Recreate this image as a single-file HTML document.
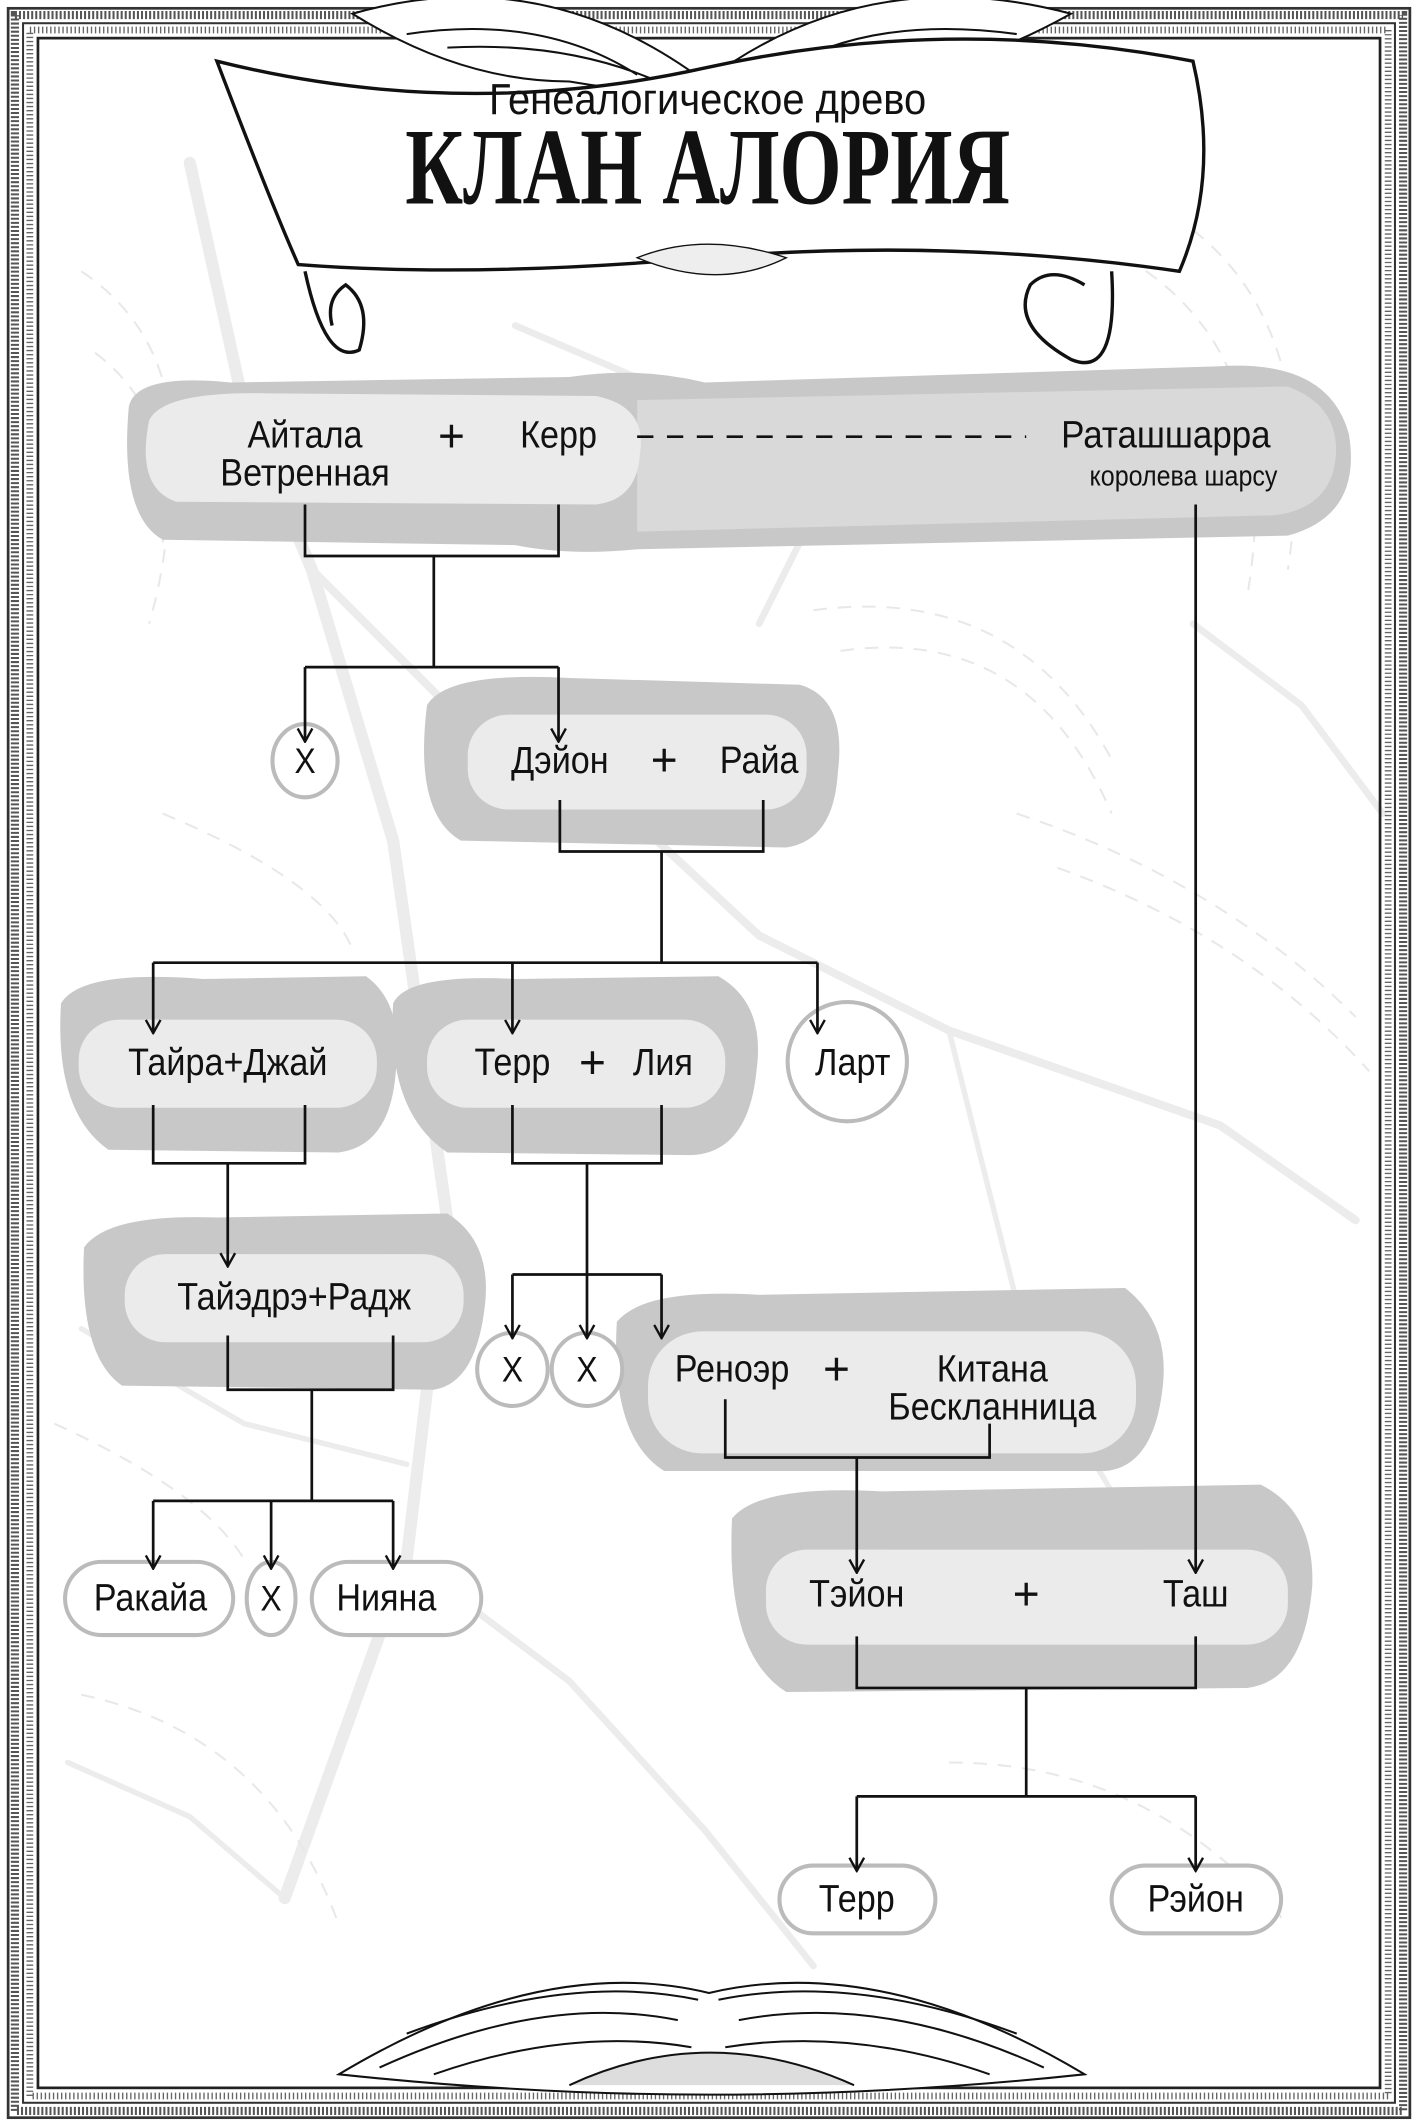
<!DOCTYPE html>
<html><head><meta charset="utf-8"><style>
html,body{margin:0;padding:0;background:#fff}
svg{display:block}
text{font-family:"Liberation Sans","DejaVu Sans",sans-serif;fill:#111;text-anchor:middle}
</style></head><body>
<svg width="1418" height="2126" viewBox="0 0 1046 1568" xmlns="http://www.w3.org/2000/svg">
<defs>
<marker id="a" viewBox="0 0 12 12" refX="11" refY="6" markerWidth="13" markerHeight="13" markerUnits="userSpaceOnUse" orient="auto">
<path d="M2,1 L11,6 L2,11" fill="none" stroke="#111" stroke-width="1.6"/></marker>
</defs>
<rect width="1046" height="1568" fill="#fff"/>
<g stroke="#ececec" fill="none" stroke-linecap="round">
<path d="M140,120 L180,300 L230,420 L290,620 L330,900 L300,1150 L210,1400" stroke-width="9"/>
<path d="M230,420 L330,520 L420,560 L560,690 L700,760 L900,830 L1000,900" stroke-width="6"/>
<path d="M300,1150 L420,1240 L520,1350 L600,1450" stroke-width="5"/>
<path d="M700,760 L760,1000 L820,1100" stroke-width="4"/>
<path d="M60,980 L180,1050 L300,1080" stroke-width="4"/>
<path d="M880,460 L960,520 L1020,600" stroke-width="5"/>
<path d="M380,240 L520,300 L600,380 L560,460" stroke-width="5"/>
<path d="M50,1300 L140,1340 L210,1400" stroke-width="4"/>
</g>
<g stroke="#e8e8e8" fill="none" stroke-width="1.5" stroke-dasharray="10 8">
<path d="M60,200 Q150,260 120,400"/><path d="M70,260 Q150,320 110,460"/>
<path d="M850,150 Q980,220 950,420"/><path d="M830,190 Q950,260 920,440"/>
<path d="M600,450 Q750,430 820,560"/><path d="M620,480 Q760,460 820,600"/>
<path d="M120,600 Q240,650 260,700"/><path d="M40,1050 Q150,1100 180,1150"/>
<path d="M700,1300 Q850,1300 950,1420"/><path d="M60,1250 Q200,1280 250,1420"/>
<path d="M750,600 Q900,650 1000,750"/><path d="M780,640 Q920,690 1010,790"/>
</g>
<rect x="6" y="6" width="1034" height="1556" fill="none" stroke="#333" stroke-width="2"/>
<rect x="11" y="11" width="1024" height="1546" fill="none" stroke="#555" stroke-width="6" stroke-dasharray="1.5 1.5"/>
<rect x="17" y="17" width="1012" height="1534" fill="none" stroke="#333" stroke-width="1.5"/>
<rect x="22" y="22" width="1002" height="1524" fill="none" stroke="#666" stroke-width="5" stroke-dasharray="1 2"/>
<rect x="28" y="28" width="990" height="1512" fill="none" stroke="#222" stroke-width="2"/>
<g fill="#fff" stroke="#111" stroke-width="1.5">
<path d="M260,10 Q400,-30 520,60 Q640,-30 790,10 Q700,60 620,60 Q560,70 520,70 Q480,70 420,60 Q340,60 260,10Z"/>
<path d="M300,25 Q400,10 470,55 M330,35 Q420,30 490,62 M750,25 Q640,10 570,55 M720,35 Q630,30 555,62" fill="none"/>
</g>
<path d="M160,45 Q340,90 520,50 Q700,10 880,45 Q900,130 870,200 Q700,175 520,190 Q350,205 220,195 Q200,150 160,45Z" fill="#fff" stroke="#111" stroke-width="2.5"/>
<path d="M225,200 Q240,270 265,258 Q275,225 255,210 Q240,220 245,240" fill="#fff" stroke="#111" stroke-width="2.5"/>
<path d="M820,200 Q825,280 790,265 Q745,240 760,210 Q775,195 800,210" fill="#fff" stroke="#111" stroke-width="2.5"/>
<path d="M470,190 Q520,170 580,190 Q530,215 470,190Z" fill="#eee" stroke="#111" stroke-width="1"/>
<text transform="translate(522,84) scale(.92,1)" font-size="32">Генеалогическое древо</text>
<text transform="translate(522,150) scale(.95,1.3)" font-size="62" style="font-family:'Liberation Serif',serif" font-weight="bold">КЛАН АЛОРИЯ</text>
<path d="M95,300 Q100,275 170,282 L420,278 Q470,270 520,282 L900,270 Q980,265 995,320 Q1005,380 950,395 L470,405 Q420,410 380,402 L120,398 Q88,380 95,300Z" fill="#c8c8c8"/>
<path d="M470,295 L950,285 Q990,300 985,340 Q980,375 940,380 L470,392Z" fill="#d9d9d9"/>
<path d="M110,310 Q120,288 200,290 L440,292 Q478,300 472,335 Q470,368 440,372 L130,370 Q100,360 110,310Z" fill="#ebebeb"/>
<g font-size="28">
<text transform="translate(225,330) scale(.9,1)">Айтала</text>
<text transform="translate(225,358) scale(.9,1)">Ветренная</text>
<text transform="translate(412,330) scale(.9,1)">Керр</text>
<text transform="translate(860,330) scale(.92,1)">Раташшарра</text>
</g>
<text x="333" y="333" font-size="34">+</text>
<line x1="470" y1="322" x2="757" y2="322" stroke="#111" stroke-width="2" stroke-dasharray="12 10"/>
<text transform="translate(873,358) scale(.88,1)" font-size="21">королева шарсу</text>
<g fill="#c8c8c8">
<path d="M315,520 Q330,495 420,500 L590,505 Q625,515 618,570 Q615,620 580,625 L340,620 Q305,600 315,520Z"/>
<path d="M45,740 Q60,715 150,722 L270,720 Q298,740 292,790 Q288,845 250,850 L80,848 Q40,820 45,740Z"/>
<path d="M290,740 Q300,718 380,722 L530,720 Q565,740 558,790 Q552,850 510,852 L330,850 Q285,820 290,740Z"/>
<path d="M62,920 Q80,895 160,898 L330,895 Q362,915 358,960 Q352,1020 320,1025 L90,1022 Q58,1000 62,920Z"/>
<path d="M455,975 Q475,950 560,955 L830,950 Q862,975 858,1020 Q852,1082 815,1085 L490,1085 Q450,1060 455,975Z"/>
<path d="M540,1120 Q560,1095 650,1100 L930,1095 Q970,1115 968,1170 Q962,1240 920,1245 L580,1248 Q535,1220 540,1120Z"/>
</g>
<g fill="#ebebeb">
<rect x="345" y="527" width="250" height="70" rx="30"/>
<rect x="58" y="752" width="220" height="65" rx="30"/>
<rect x="315" y="752" width="220" height="65" rx="30"/>
<rect x="92" y="925" width="250" height="65" rx="30"/>
<rect x="478" y="982" width="360" height="90" rx="40"/>
<rect x="565" y="1143" width="385" height="70" rx="30"/>
</g>
<g fill="#fff" stroke="#bbb" stroke-width="3">
<ellipse cx="225" cy="561" rx="24" ry="27"/>
<circle cx="625" cy="783" r="44"/>
<ellipse cx="378" cy="1010" rx="26" ry="27"/>
<ellipse cx="433" cy="1010" rx="26" ry="27"/>
<rect x="48" y="1152" width="124" height="54" rx="27"/>
<ellipse cx="200" cy="1179" rx="18" ry="27"/>
<rect x="230" y="1152" width="125" height="54" rx="27"/>
<rect x="575" y="1376" width="115" height="50" rx="25"/>
<rect x="820" y="1376" width="125" height="50" rx="25"/>
</g>
<g font-size="28">
<text transform="translate(225,570) scale(.9,1)" font-size="26">Х</text>
<text transform="translate(413,570) scale(.9,1)">Дэйон</text>
<text transform="translate(560,570) scale(.9,1)">Райа</text>
<text transform="translate(168,793) scale(.9,1)">Тайра+Джай</text>
<text transform="translate(378,793) scale(.9,1)">Терр</text>
<text transform="translate(489,793) scale(.9,1)">Лия</text>
<text transform="translate(629,793) scale(.9,1)">Ларт</text>
<text transform="translate(217,966) scale(.9,1)">Тайэдрэ+Радж</text>
<text transform="translate(378,1019) scale(.9,1)" font-size="26">Х</text>
<text transform="translate(433,1019) scale(.9,1)" font-size="26">Х</text>
<text transform="translate(540,1019) scale(.9,1)">Реноэр</text>
<text transform="translate(732,1019) scale(.9,1)">Китана</text>
<text transform="translate(732,1047) scale(.9,1)">Бескланница</text>
<text transform="translate(632,1185) scale(.9,1)">Тэйон</text>
<text transform="translate(882,1185) scale(.9,1)">Таш</text>
<text transform="translate(111,1188) scale(.9,1)">Ракайа</text>
<text transform="translate(200,1188) scale(.9,1)" font-size="26">Х</text>
<text transform="translate(285,1188) scale(.9,1)">Нияна</text>
<text transform="translate(632,1410) scale(.9,1)">Терр</text>
<text transform="translate(882,1410) scale(.9,1)">Рэйон</text>
</g>
<text x="490" y="572" font-size="34">+</text>
<text x="437" y="795" font-size="34">+</text>
<text x="617" y="1021" font-size="34">+</text>
<text x="757" y="1187" font-size="34">+</text>
<g stroke="#111" stroke-width="2" fill="none">
<path d="M225,372 V410 H412 V372 M320,410 V492 M225,492 H412"/>
<path d="M225,492 V547" marker-end="url(#a)"/><path d="M412,492 V547" marker-end="url(#a)"/>
<path d="M413,590 V628 H563 V590 M488,628 V710 M113,710 H603"/>
<path d="M113,710 V762" marker-end="url(#a)"/><path d="M378,710 V762" marker-end="url(#a)"/><path d="M603,710 V762" marker-end="url(#a)"/>
<path d="M113,815 V858 H225 V815 M378,815 V858 H488 V815 M433,858 V940 M378,940 H488"/>
<path d="M168,858 V934" marker-end="url(#a)"/>
<path d="M378,940 V987" marker-end="url(#a)"/><path d="M433,940 V987" marker-end="url(#a)"/><path d="M488,940 V987" marker-end="url(#a)"/>
<path d="M168,985 V1025 H290 V985 M230,1025 V1107 M113,1107 H290"/>
<path d="M113,1107 V1157" marker-end="url(#a)"/><path d="M200,1107 V1157" marker-end="url(#a)"/><path d="M290,1107 V1157" marker-end="url(#a)"/>
<path d="M535,1032 V1075 H730 V1050"/>
<path d="M632,1075 V1160" marker-end="url(#a)"/>
<path d="M882,372 V1160" marker-end="url(#a)"/>
<path d="M632,1207 V1245 H882 V1207 M757,1245 V1325 M632,1325 H882"/>
<path d="M632,1325 V1380" marker-end="url(#a)"/><path d="M882,1325 V1380" marker-end="url(#a)"/>
</g>
<g fill="#fff" stroke="#111" stroke-width="1.5">
<path d="M250,1530 Q400,1440 523,1470 Q650,1440 800,1530 Q660,1545 523,1545 Q390,1545 250,1530Z"/>
<path d="M280,1525 Q400,1470 500,1490 M320,1530 Q420,1495 510,1510 M770,1525 Q650,1470 545,1490 M730,1530 Q630,1495 535,1510 M300,1500 Q420,1455 515,1475 M750,1500 Q630,1455 530,1475" fill="none"/>
<path d="M420,1538 Q523,1490 630,1538" fill="#ddd"/>
</g>
</svg>
</body></html>
